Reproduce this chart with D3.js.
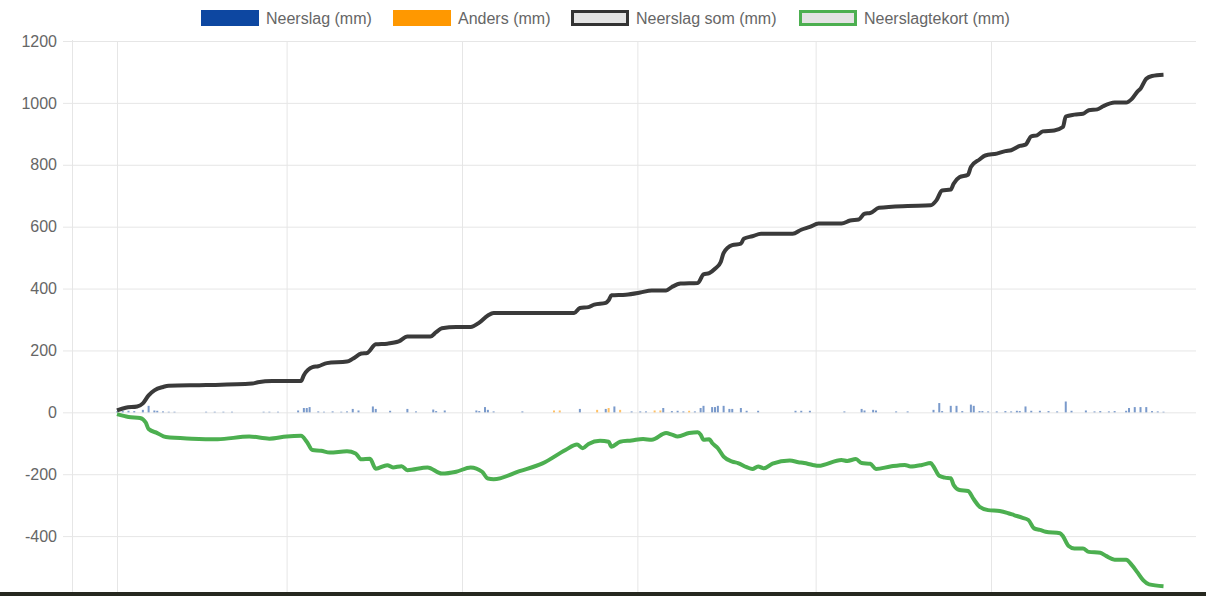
<!DOCTYPE html>
<html>
<head>
<meta charset="utf-8">
<script src="https://cdn.jsdelivr.net/npm/d3@7"></script>
<style>
  html, body { margin: 0; padding: 0; background: #fff; overflow: hidden; }
  svg { display: block; font-family: "Liberation Sans", Arial, Helvetica, sans-serif; }
</style>
</head>
<body>
<svg id="chart" width="1206" height="596"></svg>
<script>
// ---- data (day index 0..364) ----
const legendLabels = ["Neerslag (mm)", "Anders (mm)", "Neerslag som (mm)", "Neerslagtekort (mm)"];
const yTicks = [-600, -400, -200, 0, 200, 400, 600, 800, 1000, 1200];
const gridDays = [0, 59, 120, 181, 243, 304];

const neerslagDagen = [0,2,4,6,9,11,13,14,16,18,20,31,34,37,40,51,53,56,63,65,66,67,70,72,75,78,80,82,84,89,90,95,101,104,110,111,114,125,126,128,129,131,141,161,170,173,179,182,184,190,193,195,197,201,203,204,207,208,209,211,213,214,217,219,223,236,238,241,253,259,260,263,264,271,275,284,286,287,290,292,294,297,298,300,301,303,306,309,311,313,314,316,318,321,324,327,330,332,337,340,342,345,347,351,352,354,356,358,360,362,364];
const neerslagMm    = [3,4,5,4,8,21,6,5,3,2,2,2,2,2,2,2,2,2,6,14,14,17,3,2,3,2,3,11,6,19,11,5,11,3,9,4,6,6,4,17,8,3,3,11,11,19,3,3,3,14,4,5,3,3,14,21,17,17,21,21,11,11,14,5,5,5,5,5,3,11,6,8,6,3,3,8,30,4,21,21,4,25,21,4,4,3,3,4,3,5,4,19,5,5,4,3,35,5,6,3,4,3,4,5,14,17,17,17,4,3,2];
const andersDagen = [152,154,167,171,175,187,189,199];
const andersMm    = [6,6,8,14,8,6,6,5];

const somDagen   = [0,3,7,9,11,13,16,18,31,47,49,54,64,65,68,70,73,80,82,85,87,90,94,98,101,109,111,113,118,123,126,129,131,159,161,164,166,170,171,172,177,182,186,191,193,196,202,204,206,208,210,211,214,217,218,221,224,235,238,241,244,252,255,258,260,262,265,275,283,285,287,290,291,293,296,297,300,302,306,309,311,314,316,318,320,322,326,329,330,333,336,338,341,343,347,351,353,355,356,358,360,364];
const somWaarden = [6,15,19,29,55,71,82,86,88,93,97,101,101,120,146,149,159,164,173,190,192,220,222,229,245,245,259,272,276,276,290,313,321,321,337,340,348,354,362,378,380,387,394,394,405,416,418,446,450,464,486,515,540,545,561,569,577,577,590,599,610,610,620,623,642,644,661,667,669,685,717,720,739,760,768,793,817,830,836,844,847,861,865,892,895,908,911,922,956,962,965,976,979,989,1001,1001,1013,1037,1046,1078,1087,1091];

const tekortDagen   = [0,4,8,10,11,14,17,26,35,46,53,59,64,66,68,71,74,80,83,85,88,90,94,96,99,101,108,113,118,123,127,129,131,140,148,156,160,162,164,168,171,172,175,179,183,186,191,193,195,199,202,203,204,206,207,209,211,214,216,219,221,223,225,228,234,237,239,242,244,252,254,257,259,262,264,269,274,276,280,283,284,286,288,290,291,293,296,298,300,303,307,310,312,315,317,319,321,323,328,329,331,333,336,338,342,344,347,351,353,355,357,359,364];
const tekortWaarden = [-6,-15,-18,-33,-54,-67,-80,-85,-87,-78,-85,-78,-76,-95,-122,-124,-130,-126,-133,-152,-150,-182,-171,-178,-174,-187,-178,-198,-192,-178,-192,-214,-216,-190,-165,-122,-104,-116,-102,-92,-95,-111,-95,-91,-86,-89,-67,-72,-78,-67,-64,-72,-89,-87,-99,-116,-143,-159,-164,-177,-183,-175,-181,-166,-156,-161,-164,-170,-173,-154,-157,-151,-164,-166,-183,-175,-170,-175,-170,-164,-175,-205,-211,-213,-235,-251,-254,-281,-305,-316,-319,-326,-332,-341,-348,-375,-380,-386,-391,-400,-432,-440,-440,-451,-454,-464,-476,-476,-494,-518,-543,-556,-562];

// ---- chart ----
(function () {
  const W = 1206, H = 596;
  const pL = 72, pR = 1196, pT = 41, pB = 598;
  const svg = d3.select("#chart");

  const x = d3.scaleLinear().domain([-15.65, 375.3]).range([pL, pR]);
  const y = d3.scaleLinear().domain([-600, 1200]).range([pB, pT]);

  const gridColor = "#e6e6e6";

  // vertical grid
  const xg = svg.append("g").attr("transform", `translate(0,${pB})`)
    .call(d3.axisBottom(x).tickValues(gridDays).tickSize(-(pB - pT)).tickFormat(""));
  xg.select(".domain").remove();
  xg.selectAll("line").attr("stroke", gridColor).attr("stroke-width", 1);
  svg.append("line").attr("x1", pL + 0.5).attr("x2", pL + 0.5).attr("y1", pT - 1).attr("y2", H)
    .attr("stroke", gridColor);

  // horizontal grid + labels
  const yg = svg.append("g").attr("transform", "translate(63,0)")
    .call(d3.axisLeft(y).tickValues(yTicks).tickFormat(d => String(d))
      .tickSizeInner(-(pR - 63)).tickSizeOuter(0).tickPadding(6));
  yg.select(".domain").remove();
  yg.selectAll("line").attr("stroke", gridColor);
  yg.selectAll("text").attr("fill", "#666").style("font-size", "16px")
    .style("font-family", "'Liberation Sans', Arial, sans-serif");

  // bars
  const barW = 2;
  const neerslag = neerslagDagen.map((d, i) => ({ d, v: neerslagMm[i] }));
  const anders = andersDagen.map((d, i) => ({ d, v: andersMm[i] }));
  svg.append("g").selectAll("rect").data(neerslag).join("rect")
    .attr("x", p => x(p.d) - barW / 2).attr("width", barW)
    .attr("y", p => y(p.v)).attr("height", p => y(0) - y(p.v))
    .attr("fill", "#0d47a1").attr("fill-opacity", 0.55);
  svg.append("g").selectAll("rect").data(anders).join("rect")
    .attr("x", p => x(p.d) - barW / 2).attr("width", barW)
    .attr("y", p => y(p.v)).attr("height", p => y(0) - y(p.v))
    .attr("fill", "#ff9800").attr("fill-opacity", 0.6);

  // lines
  const line = d3.line().x(p => x(p.d)).y(p => y(p.v)).curve(d3.curveMonotoneX);
  const tekort = tekortDagen.map((d, i) => ({ d, v: tekortWaarden[i] }));
  const som = somDagen.map((d, i) => ({ d, v: somWaarden[i] }));
  svg.append("path").datum(tekort).attr("d", line)
    .attr("fill", "none").attr("stroke", "#4caf50").attr("stroke-width", 4).attr("stroke-linejoin", "round");
  svg.append("path").datum(som).attr("d", line)
    .attr("fill", "none").attr("stroke", "#3a3a3a").attr("stroke-width", 4).attr("stroke-linejoin", "round");

  // legend
  const legendX = [201, 393, 571, 799];
  const legendFill = ["#0d47a1", "#ff9800", "#e3e3e3", "#e3e3e3"];
  const legendStroke = ["#0d47a1", "#ff9800", "#333333", "#4caf50"];
  const legendSW = [0, 0, 3, 3];
  const lg = svg.append("g");
  legendLabels.forEach((lab, i) => {
    const sw = legendSW[i];
    lg.append("rect")
      .attr("x", legendX[i] + sw / 2).attr("y", 10 + sw / 2)
      .attr("width", 58 - sw).attr("height", 16 - sw)
      .attr("fill", legendFill[i])
      .attr("stroke", sw ? legendStroke[i] : "none").attr("stroke-width", sw);
    lg.append("text").attr("x", legendX[i] + 65).attr("y", 18).attr("dy", "0.35em")
      .attr("fill", "#666").style("font-size", "16px").text(lab);
  });

  // dark strip at the bottom edge
  svg.append("rect").attr("x", 0).attr("y", 592).attr("width", W).attr("height", 4).attr("fill", "#26281f");
})();
</script>
</body>
</html>
